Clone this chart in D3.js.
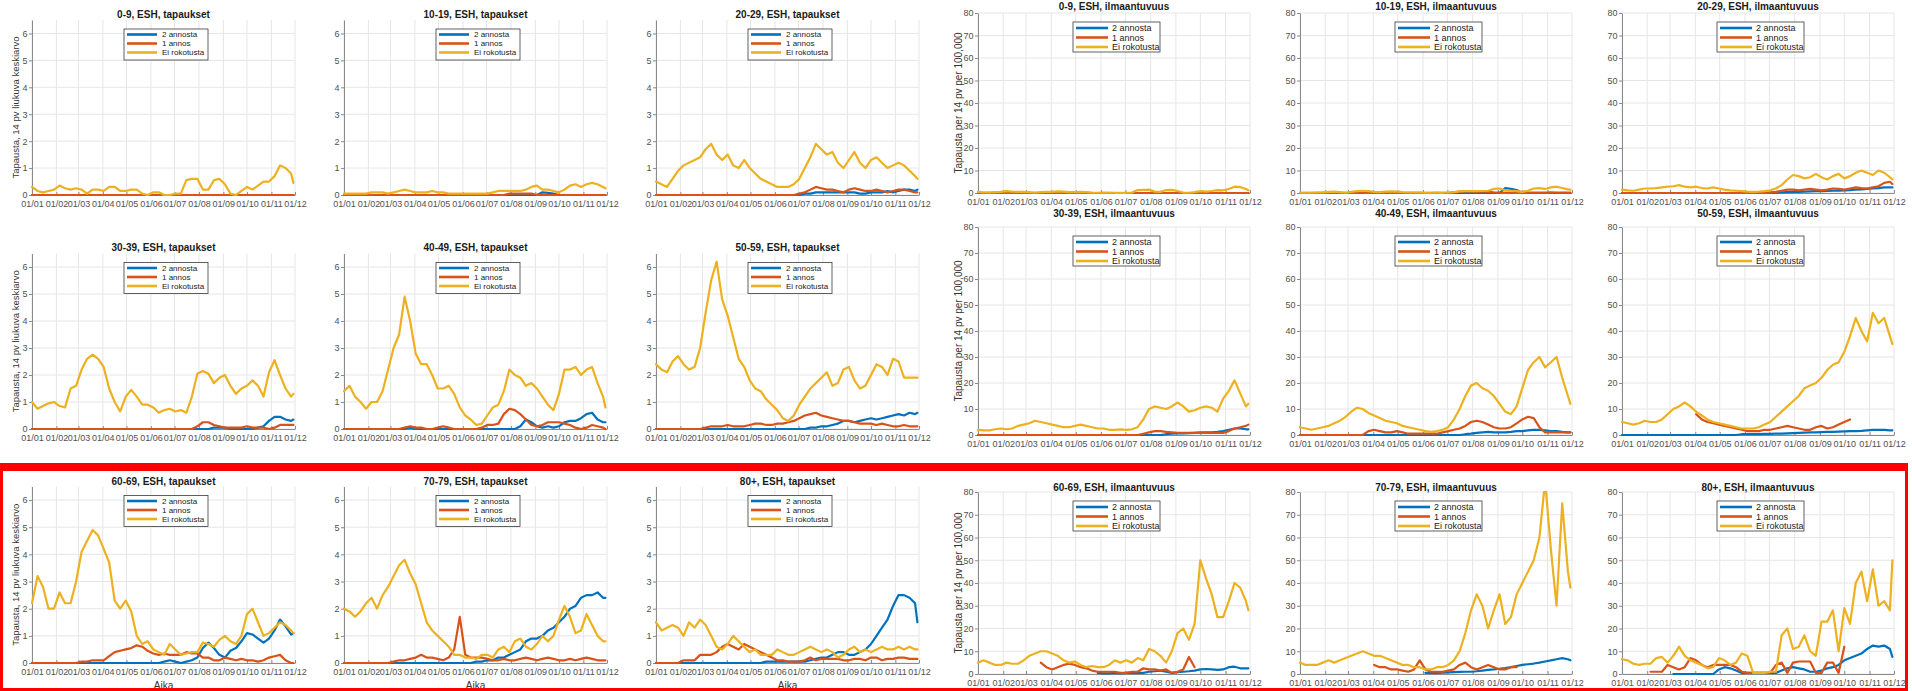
<!DOCTYPE html>
<html><head><meta charset="utf-8">
<script src="https://cdn.jsdelivr.net/npm/d3@7"></script>
<style>body{margin:0;background:#fff;}svg{display:block;font-family:"Liberation Sans",Arial,sans-serif;}</style>
</head><body><div id="chart"></div>
<script>
const ageGroups = ["0-9","10-19","20-29","30-39","40-49","50-59","60-69","70-79","80+"];
const seriesNames = ["2 annosta","1 annos","Ei rokotusta"];
const seriesColors = ["#0072BD","#D95319","#EDB120"];
const dates = ["2021-01-01","2021-01-08","2021-01-15","2021-01-22","2021-01-29","2021-02-05","2021-02-12","2021-02-19","2021-02-26",
"2021-03-05","2021-03-12","2021-03-19","2021-03-26","2021-04-02","2021-04-09","2021-04-16","2021-04-23","2021-04-30",
"2021-05-07","2021-05-14","2021-05-21","2021-05-28","2021-06-04","2021-06-11","2021-06-18","2021-06-25",
"2021-07-02","2021-07-09","2021-07-16","2021-07-23","2021-07-30","2021-08-06","2021-08-13","2021-08-20","2021-08-27",
"2021-09-03","2021-09-10","2021-09-17","2021-09-24","2021-10-01","2021-10-08","2021-10-15","2021-10-22","2021-10-29",
"2021-11-05","2021-11-12","2021-11-19","2021-11-26","2021-11-29"];
const monthTicks = ["2021-01-01","2021-02-01","2021-03-01","2021-04-01","2021-05-01","2021-06-01","2021-07-01","2021-08-01","2021-09-01","2021-10-01","2021-11-01","2021-12-01"];
const xTickLabels = ["01/01","01/02","01/03","01/04","01/05","01/06","01/07","01/08","01/09","01/10","01/11","01/12"];
const casesYTicks = [0,1,2,3,4,5,6];
const incYTicks = [0,10,20,30,40,50,60,70,80];
const casesYLabel = "Tapausta, 14 pv liukuva keskiarvo";
const incYLabel = "Tapausta per 14 pv per 100,000";
const xLabel = "Aika";

// ---- tapaukset (cases, 14-day moving average) ----
const tap09Two = [0,0,0,0,0,0,0,0,0,0, 0,0,0,0,0,0,0,0,0,0, 0,0,0,0,0,0,0,0,0,0, 0,0,0,0,0,0,0,0,0,0, 0,0,0,0,0,0,0,0,0];
const tap09One = [0,0,0,0,0,0,0,0,0,0, 0,0,0,0,0,0,0,0,0,0, 0,0,0,0,0,0,0,0,0,0, 0,0,0,0,0,0,0,0,0,0, 0,0,0,0,0,0,0,0,0];
const tap09None = [0.3,0.15,0.1,0.15,0.2,0.35,0.25,0.2,0.25,0.2, 0.05,0.2,0.2,0.15,0.3,0.3,0.15,0.15,0.2,0.2, 0.05,0,0.1,0.1,0,0,0.05,0.05,0.55,0.6, 0.6,0.2,0.2,0.55,0.6,0.4,0.05,0,0.15,0.3, 0.2,0.35,0.5,0.5,0.7,1.1,1.0,0.8,0.45];

const tap1019Two = [0,0,0,0,0,0,0,0,0,0, 0,0,0,0,0,0,0,0,0,0, 0,0,0,0,0,0,0,0,0,0, 0,0,0,0,0,0,0.1,0.08,0.05,0, 0,0,0,0,0,0,0,0,0];
const tap1019One = [0,0,0,0,0,0,0,0,0,0, 0,0,0,0,0,0,0,0,0,0, 0,0,0,0,0,0,0,0,0,0, 0.05,0.05,0.05,0.05,0.05,0,0,0,0,0, 0,0,0,0,0,0,0,0,0];
const tap1019None = [0.05,0.05,0.05,0.05,0.05,0.1,0.1,0.1,0.05,0.1, 0.15,0.2,0.15,0.1,0.1,0.1,0.15,0.1,0.1,0.05, 0.05,0.05,0.05,0.05,0.05,0.05,0.05,0.1,0.15,0.15, 0.15,0.15,0.15,0.2,0.3,0.35,0.2,0.2,0.15,0.1, 0.2,0.35,0.4,0.3,0.4,0.45,0.4,0.3,0.25];

const tap2029Two = [0,0,0,0,0,0,0,0,0,0, 0,0,0,0,0,0,0,0,0,0, 0,0,0,0,0,0,0,0.05,0.05,0.1, 0.1,0.1,0.1,0.1,0.1,0.1,0.1,0.05,0.05,0.1, 0.1,0.1,0.15,0.1,0.15,0.2,0.2,0.15,0.2];
const tap2029One = [0,0,0,0,0,0,0,0,0,0, 0,0,0,0,0,0,0,0,0,0, 0,0,0,0,0,0,0.05,0.1,0.2,0.3, 0.25,0.2,0.2,0.15,0.1,0.2,0.25,0.2,0.15,0.15, 0.2,0.15,0.1,0.15,0.2,0.2,0.15,0.1,0.1];
const tap2029None = [0.5,0.4,0.3,0.6,0.9,1.1,1.2,1.3,1.4,1.7, 1.9,1.5,1.3,1.5,1.1,1.0,1.3,1.0,0.8,0.6, 0.5,0.4,0.3,0.3,0.3,0.4,0.6,1.0,1.4,1.9, 1.7,1.5,1.6,1.2,1.0,1.3,1.6,1.2,1.0,1.3, 1.4,1.2,1.0,1.1,1.2,1.1,0.9,0.7,0.6];

const tap3039Two = [0,0,0,0,0,0,0,0,0,0, 0,0,0,0,0,0,0,0,0,0, 0,0,0,0,0,0,0,0,0,0, 0,0,0,0.05,0.05,0.05,0,0,0,0, 0,0.05,0.1,0.3,0.45,0.45,0.35,0.3,0.35];
const tap3039One = [0,0,0,0,0,0,0,0,0,0, 0,0,0,0,0,0,0,0,0,0, 0,0,0,0,0,0,0,0,0,0, 0.1,0.25,0.25,0.15,0.1,0.05,0.05,0.05,0.05,0.1, 0.05,0.05,0.05,0,0.05,0.15,0.15,0.15,0.15];
const tap3039None = [1.0,0.75,0.85,0.95,1.0,0.85,0.8,1.5,1.6,2.2, 2.6,2.75,2.6,2.3,1.5,1.0,0.65,1.2,1.45,1.2, 0.9,0.9,0.8,0.6,0.7,0.75,0.65,0.7,0.6,1.2, 2.05,2.15,2.05,1.7,1.9,2.0,1.6,1.3,1.5,1.6, 1.8,1.6,1.2,2.1,2.55,2.0,1.5,1.2,1.3];

const tap4049Two = [0,0,0,0,0,0,0,0,0,0, 0,0,0.05,0,0,0,0,0,0,0, 0,0,0,0,0,0,0,0,0,0, 0,0,0.1,0.35,0.25,0.1,0.05,0.1,0.05,0.1, 0.25,0.3,0.3,0.4,0.55,0.6,0.35,0.25,0.25];
const tap4049One = [0,0,0,0,0,0,0,0,0,0, 0,0.05,0.1,0.05,0.05,0,0,0.05,0.1,0.05, 0,0,0,0,0,0.05,0.15,0.15,0.2,0.55, 0.75,0.7,0.55,0.35,0.15,0.1,0.15,0.25,0.25,0.25, 0.2,0.15,0.05,0,0.05,0.15,0.1,0.05,0];
const tap4049None = [1.4,1.6,1.2,1.0,0.75,1.0,1.0,1.4,2.2,3.0, 3.5,4.9,4.0,2.8,2.4,2.4,2.0,1.5,1.5,1.6, 1.3,0.8,0.5,0.35,0.15,0.2,0.5,0.8,0.9,1.4, 2.2,2.0,1.9,1.6,1.7,1.5,1.2,0.9,0.7,1.3, 2.2,2.2,2.3,2.0,2.2,2.3,1.7,1.2,0.8];

const tap5059Two = [0,0,0,0,0,0,0,0,0,0, 0,0,0,0,0,0,0,0,0,0, 0,0,0,0,0,0,0,0,0.05,0.05, 0.1,0.1,0.15,0.2,0.3,0.3,0.25,0.3,0.35,0.4, 0.35,0.4,0.45,0.5,0.55,0.5,0.6,0.55,0.6];
const tap5059One = [0,0,0,0,0,0,0,0,0,0.05, 0.1,0.1,0.1,0.15,0.1,0.1,0.1,0.15,0.2,0.2, 0.15,0.15,0.2,0.2,0.25,0.3,0.4,0.5,0.55,0.6, 0.5,0.45,0.4,0.35,0.3,0.3,0.25,0.2,0.2,0.2, 0.15,0.2,0.15,0.1,0.1,0.15,0.1,0.1,0.1];
const tap5059None = [2.4,2.2,2.1,2.5,2.7,2.4,2.2,2.3,3.0,4.3, 5.5,6.2,4.8,4.2,3.4,2.6,2.3,1.8,1.5,1.4, 1.1,0.9,0.7,0.4,0.3,0.5,0.9,1.2,1.5,1.7, 1.9,2.1,1.6,1.7,2.2,2.3,1.8,1.5,1.6,2.0, 2.4,2.3,2.0,2.6,2.5,1.9,1.9,1.9,1.9];

const tap6069Two = [0,0,0,0,0,0,0,0,0,0, 0,0,0,0,0,0,0,0,0,0, 0,0,0,0,0.05,0.1,0.05,0,0.05,0.1, 0.2,0.55,0.75,0.55,0.3,0.2,0.45,0.55,0.8,1.1, 1.05,0.9,0.75,0.9,1.2,1.6,1.35,1.05,1.1];
const tap6069One = [0,0,0,0,0,0,0,0,0,0.05, 0.05,0.1,0.1,0.1,0.25,0.4,0.45,0.5,0.55,0.65, 0.6,0.45,0.35,0.3,0.35,0.3,0.3,0.3,0.4,0.35, 0.35,0.2,0.2,0.1,0.1,0.2,0.15,0.1,0.15,0.1, 0.1,0.05,0.1,0.2,0.25,0.3,0.1,0,0];
const tap6069None = [2.2,3.2,2.8,2.0,2.0,2.6,2.2,2.2,3.0,4.1, 4.5,4.9,4.7,4.2,3.7,2.3,2.0,2.3,1.9,1.0, 0.7,0.8,0.5,0.4,0.3,0.7,0.5,0.3,0.35,0.4, 0.4,0.75,0.7,0.6,0.85,1.0,0.8,0.7,1.0,1.8, 2.0,1.5,1.0,1.1,1.3,1.5,1.4,1.2,1.1];

const tap7079Two = [0,0,0,0,0,0,0,0,0,0, 0,0,0,0,0,0,0,0,0,0, 0,0,0,0,0.05,0.05,0.1,0.1,0.2,0.2, 0.3,0.4,0.5,0.8,0.9,0.9,1.0,1.2,1.3,1.5, 1.7,2.0,2.1,2.4,2.5,2.5,2.6,2.4,2.4];
const tap7079One = [0,0,0,0,0,0,0,0,0,0.05, 0.1,0.1,0.15,0.2,0.3,0.2,0.2,0.15,0.1,0.2, 0.5,1.7,0.3,0.2,0.2,0.2,0.15,0.1,0.1,0.15, 0.1,0.1,0.15,0.2,0.15,0.1,0.15,0.2,0.15,0.1, 0.1,0.15,0.1,0.15,0.2,0.15,0.1,0.1,0.1];
const tap7079None = [2.0,1.9,1.7,1.9,2.2,2.4,2.0,2.5,2.8,3.2, 3.6,3.8,3.3,2.9,2.2,1.5,1.2,1.0,0.8,0.6, 0.3,0.3,0.2,0.2,0.15,0.3,0.3,0.2,0.5,0.6, 0.4,0.8,0.9,0.6,0.5,0.7,1.0,0.8,1.0,1.6, 2.1,1.7,1.1,1.2,1.8,1.4,1.0,0.8,0.8];

const tap80Two = [0,0,0,0,0,0,0,0,0,0, 0,0,0,0,0,0,0,0,0,0, 0.05,0.05,0.05,0.05,0.05,0.05,0.05,0.05,0.1,0.15, 0.2,0.2,0.3,0.4,0.4,0.3,0.3,0.4,0.5,0.7, 1.0,1.3,1.6,2.1,2.5,2.5,2.4,2.2,1.5];
const tap80One = [0,0,0,0,0,0.1,0.1,0.1,0.3,0.3, 0.3,0.4,0.6,0.7,0.6,0.5,0.7,0.6,0.5,0.4, 0.3,0.2,0.1,0.1,0.05,0.05,0.05,0.1,0.2,0.1, 0.15,0.15,0.15,0.15,0.1,0.1,0.15,0.15,0.1,0.2, 0.2,0.1,0.15,0.15,0.2,0.2,0.15,0.15,0.15];
const tap80None = [1.5,1.2,1.3,1.4,1.3,1.0,1.5,1.3,1.6,1.4, 1.0,0.6,0.5,0.7,1.0,0.8,0.6,0.4,0.5,0.3, 0.3,0.3,0.5,0.4,0.3,0.3,0.4,0.5,0.6,0.5, 0.4,0.5,0.4,0.2,0.3,0.5,0.6,0.4,0.5,0.4, 0.5,0.6,0.5,0.5,0.6,0.5,0.6,0.5,0.5];

// ---- ilmaantuvuus (incidence per 100,000) ----
const ilm09Two = [0,0,0,0,0,0,0,0,0,0, 0,0,0,0,0,0,0,0,0,0, 0,0,0,0,0,0,0,0,0,0, 0,0,0,0,0,0,0,0,0,0, 0,0,0,0,0,0,0,0,0];
const ilm09One = [0,0,0,0,0,0,0,0,0,0, 0,0,0,0,0,0,0,0,0,0, 0,0,0,0,0,0,0,0,0,0, 0,0,0,0,0,0,0,0,0,0, 0,0,0,0,0,0,0,0,0];
const ilm09None = [0.5,0.3,0.3,0.4,0.5,0.8,0.6,0.5,0.5,0.4, 0.2,0.4,0.5,0.5,0.7,0.6,0.4,0.4,0.5,0.4, 0.2,0.1,0.2,0.2,0.1,0.1,0.1,0.2,1.3,1.4, 1.5,0.6,0.5,1.3,1.4,0.9,0.2,0.1,0.4,0.8, 0.6,0.9,1.3,1.2,1.8,2.8,2.6,1.8,1.2];

const ilm1019Two = [0,0,0,0,0,0,0,0,0,0, 0,0,0,0,0,0,0,0,0,0, 0,0,0,0,0,0,0,0,0,0, 0,0,0,0,0,0,2.2,1.8,1.3,0, 0,0,0,0,0,0,0,0,0];
const ilm1019One = [0,0,0,0,0,0,0,0,0,0, 0,0,0,0,0,0,0,0,0,0, 0,0,0,0,0,0,0,0.3,0.6,0.7, 0.7,0.6,0.7,0.5,0.3,0.2,0.1,0.1,0.2,0.2, 0.2,0.2,0.2,0.2,0.3,0.2,0.2,0.2,0.2];
const ilm1019None = [0.2,0.2,0.2,0.3,0.3,0.5,0.6,0.4,0.2,0.5, 0.8,1.0,0.8,0.5,0.4,0.6,0.7,0.6,0.4,0.3, 0.3,0.3,0.2,0.2,0.3,0.2,0.3,0.4,0.7,0.8, 0.9,0.8,0.9,1.0,1.8,2.0,1.2,1.0,0.8,0.5, 1.0,2.0,2.2,1.8,2.5,2.8,2.2,1.6,1.5];

const ilm2029Two = [0,0,0,0,0,0,0,0,0,0, 0,0,0,0,0,0,0,0,0,0, 0,0,0,0,0,0,0,0.2,0.3,0.4, 0.5,0.5,0.6,0.7,0.8,0.8,0.9,1.0,1.0,1.2, 1.3,1.5,1.6,1.8,2.0,2.2,2.5,2.5,2.5];
const ilm2029One = [0,0,0,0,0,0,0,0,0,0, 0,0,0,0,0,0,0,0,0,0, 0,0,0,0,0,0,0.3,0.5,1.0,1.5, 1.5,1.2,1.5,1.8,1.5,1.2,1.5,2.0,1.8,1.5, 2.0,2.5,2.2,2.0,2.5,3.0,4.5,5.0,4.0];
const ilm2029None = [1.5,1.2,1.0,1.5,2.0,2.0,2.2,2.5,2.8,3.0, 3.5,2.8,2.5,2.8,2.2,2.0,2.5,2.0,1.5,1.2, 1.0,0.8,0.6,0.5,0.6,0.8,1.2,2.0,3.5,6.0, 8.0,7.5,6.5,7.0,8.5,7.0,6.0,7.5,8.5,6.5, 7.5,9.0,10.0,9.0,8.0,10.0,9.0,7.0,6.0];

const ilm3039Two = [0,0,0,0,0,0,0,0,0,0, 0,0,0,0,0,0,0,0,0,0, 0,0,0,0,0,0,0,0,0,0, 0,0,0,0.3,0.5,0.6,0.6,0.7,0.8,0.9, 1.0,1.0,1.2,1.5,2.0,2.5,2.5,2.2,2.2];
const ilm3039One = [0,0,0,0,0,0,0,0,0,0, 0,0,0,0,0,0,0,0,0,0, 0,0,0,0,0,0,0,0,0,0.5, 1.0,1.5,1.5,1.2,1.0,0.8,0.8,0.8,0.8,1.0, 0.8,0.8,0.8,0.8,1.5,2.5,3.0,3.5,4.0];
const ilm3039None = [2.0,1.8,1.8,2.2,2.5,2.2,2.5,3.5,4.0,4.5, 5.5,5.0,4.5,4.0,3.5,3.0,3.0,3.5,4.0,3.5, 3.0,2.5,2.5,2.0,2.0,2.2,2.0,2.2,3.0,6.0, 10.0,11.0,10.5,10.0,11.0,12.5,11.0,9.0,9.5,10.5, 11.0,10.5,9.0,14.0,17.0,21.0,16.0,11.0,12.0];

const ilm4049Two = [0,0,0,0,0,0,0,0,0,0, 0,0,0,0,0,0,0,0,0,0, 0,0,0,0,0,0,0,0,0,0.3, 0.5,0.8,1.0,1.2,1.0,1.0,1.0,1.2,1.5,1.5, 1.8,2.0,2.0,1.8,1.5,1.5,1.2,1.0,1.0];
const ilm4049One = [0,0,0,0,0,0,0,0,0,0, 0,0,1.5,2.0,1.5,1.0,1.0,1.5,1.0,0.5, 0.5,0.5,0.5,0.5,0.5,1.0,1.5,2.0,2.5,3.5, 5.0,5.5,5.0,4.0,3.0,2.5,2.5,3.0,4.5,6.0, 7.0,6.5,3.0,1.0,1.0,1.0,1.0,1.0,1.0];
const ilm4049None = [3.0,2.5,2.0,2.5,3.0,3.5,4.5,5.5,7.0,9.0, 10.5,10.0,8.5,7.5,6.5,5.5,5.0,4.5,3.5,3.0, 2.5,2.0,1.5,1.2,1.5,2.0,3.0,6.0,10.0,15.0, 19.0,20.0,18.0,17.0,15.0,12.0,9.0,8.0,11.0,18.0, 25.0,28.0,30.0,26.0,28.0,30.0,22.0,15.0,12.0];

const ilm5059Two = [0,0,0,0,0,0,0,0,0,0, 0,0,0,0,0,0,0,0,0,0, 0,0.3,0.3,0.3,0.3,0.4,0.4,0.5,0.5,0.6, 0.7,0.8,0.9,1.0,1.0,1.1,1.2,1.2,1.3,1.4, 1.5,1.5,1.6,1.8,2.0,2.0,2.0,1.8,1.8];
const ilm5059One = [null,null,null,null,null,null,null,null,null,null, null,null,null,8,6,5,4.5,4,3.5,3, 2.5,2,1.5,1.5,1.5,2,2,2.5,3,3.5, 3,2.5,2,2,3,3.5,2.5,3,4,5, 6,null,null,null,null,null,null,null,null];
const ilm5059None = [5.0,4.5,4.0,4.5,5.5,5.0,5.0,6.0,8.0,10.0, 11.0,12.5,11.0,9.0,7.5,6.0,5.0,4.5,4.0,3.5, 3.0,2.5,2.5,2.5,3.0,4.0,5.0,7.0,9.0,11.0, 13.0,15.0,18.0,19.0,20.0,22.0,25.0,27.0,28.0,32.0, 38.0,45.0,40.0,36.0,47.0,43.0,45.0,38.0,35.0];

const ilm6069Two = [null,null,null,null,null,null,null,null,null,null, null,null,null,null,null,null,null,null,null,null, null,0.5,0.3,0.3,0.5,0.3,0.5,0.5,0.5,0.5, 1,1.2,1.5,1,0.5,0.8,1,1.2,1.5,2, 2.2,2,1.8,2,3,3.2,2.5,2.5,2.5];
const ilm6069One = [null,null,null,null,null,null,null,null,null,null, null,5,3,2,3,4,4.5,4,3,2.5, 1.5,1,1,1,1,0.5,0.5,1,1,2.5, 2,2,1.5,2,0.5,1,2,7.5,3, null, null,null,null,null,null,null,null,null,null];
const ilm6069None = [5,6,5,4,4,5,4.5,4.5,6,8, 9,10,10,9,8,6,5,5.5,4,3, 3.5,3,3,4,6,5,6,5,7,6, 11,10,8,5,10,18,20,15,22,50, 42,35,25,25,32,40,38,32,28];

const ilm7079Two = [null,null,null,null,null,null,null,null,null,null, null,null,null,null,null,null,null,null,null,null, null,null,0.5,0.5,0.5,0.6,0.7,0.8,0.9,1.0, 1.0,1.2,1.5,1.8,2.0,2.3,2.6,3.0,3.5,4.0, 4.3,4.6,5.0,5.5,6.0,6.5,7.0,6.5,6.0];
const ilm7079One = [null,null,null,null,null,null,null,null,null,null, null,null,null,4,3,3,2,2,1.5,1, 2,6,2,1,1,1,1.5,2,4,5, 3,2,3,4,3,2,2,3,3,null, null,null,null,null,null,null,null,null,null];
const ilm7079None = [5,4,4,4,5,6,5,6,7,8, 9,10,9,8,8,7,6,5,4,4, 3,3,2,2,3,3,4,6,10,18, 28,35,30,20,28,35,22,25,35,40, 45,50,60,85,55,30,75,45,38];

const ilm80Two = [null,null,null,null,null,null,null,null,null,0, 0,0,0,0,0,0,0,2,3,2.5, 1.5,0.5,0.5,0.5,0.5,0.5,0.5,0.5,1.5,2.5, 3,2.5,2,1,1,1.5,2.5,3,4,6, 7,8,9,11,12.5,12,12.5,11,7.5];
const ilm80One = [null,null,null,null,null,1,1,1,4,3, 2,3,7,6,4,3,4,4,4,4, 3,1,0.5,0.5,0.5,0.5,0.5,4,5,0.5, 5,5.5,5.5,5.5,0.5,0.5,5,5,0.5,12, null,null,null,null,null,null,null,null,null];
const ilm80None = [6.5,6,4.5,4,4.5,4.5,7,7.5,5,8, 12,8,6,5,4,2.5,3,7,6,4, 5,9,8,0.5,0.5,0.5,1,1,17,20, 11,12,17,10,8,23,23,28,10,29, 22,40,45,32,46,30,32,28,50];

const casesSeries = [
  [tap09Two,tap09One,tap09None],[tap1019Two,tap1019One,tap1019None],[tap2029Two,tap2029One,tap2029None],
  [tap3039Two,tap3039One,tap3039None],[tap4049Two,tap4049One,tap4049None],[tap5059Two,tap5059One,tap5059None],
  [tap6069Two,tap6069One,tap6069None],[tap7079Two,tap7079One,tap7079None],[tap80Two,tap80One,tap80None]];
const incSeries = [
  [ilm09Two,ilm09One,ilm09None],[ilm1019Two,ilm1019One,ilm1019None],[ilm2029Two,ilm2029One,ilm2029None],
  [ilm3039Two,ilm3039One,ilm3039None],[ilm4049Two,ilm4049One,ilm4049None],[ilm5059Two,ilm5059One,ilm5059None],
  [ilm6069Two,ilm6069One,ilm6069None],[ilm7079Two,ilm7079One,ilm7079None],[ilm80Two,ilm80One,ilm80None]];

// ---- layout ----
const W = 1912, H = 691;
const FONT = '"Liberation Sans", Arial, Helvetica, sans-serif';
const parse = d3.timeParse("%Y-%m-%d");
const dateVals = dates.map(parse);
const monthVals = monthTicks.map(parse);

const leftCols = [32, 344, 656], leftW = 263;
const leftRows = [{top:20,bottom:195,title:14},{top:253.5,bottom:429,title:247},{top:486.5,bottom:663,title:481}];
const rightCols = [978, 1300, 1622], rightW = 272;
const rightRows = [{top:13,bottom:193,title:6},{top:227,bottom:435,title:213},{top:492,bottom:674,title:487}];

const svg = d3.select("#chart").append("svg").attr("width", W).attr("height", H)
  .style("font-family", FONT);
svg.append("rect").attr("width", W).attr("height", H).attr("fill", "#fff");
const defs = svg.append("defs");
let clipId = 0;

function drawPanel(o) {
  const g = svg.append("g");
  const x = d3.scaleTime().domain([monthVals[0], monthVals[11]]).range([o.x0, o.x0 + o.w]);
  const y = d3.scaleLinear().domain([0, o.yMax]).range([o.bottom, o.top]);
  // grid
  g.append("g").selectAll("line").data(monthVals).join("line")
    .attr("x1", d => x(d)).attr("x2", d => x(d)).attr("y1", o.top).attr("y2", o.bottom)
    .attr("stroke", "#e6e6e6").attr("stroke-width", 1);
  g.append("g").selectAll("line").data(o.yTicks).join("line")
    .attr("x1", o.x0).attr("x2", o.x0 + o.w).attr("y1", d => y(d)).attr("y2", d => y(d))
    .attr("stroke", "#e6e6e6").attr("stroke-width", 1);
  // axes
  const xa = g.append("g").attr("transform", `translate(0,${o.bottom})`)
    .call(d3.axisBottom(x).tickValues(monthVals).tickFormat((d, i) => xTickLabels[i])
      .tickSizeInner(-3).tickSizeOuter(0).tickPadding(5.5));
  const ya = g.append("g").attr("transform", `translate(${o.x0},0)`)
    .call(d3.axisLeft(y).tickValues(o.yTicks).tickFormat(d3.format("d"))
      .tickSizeInner(3).tickSizeOuter(0).tickPadding(1.5));
  [xa, ya].forEach(a => {
    a.select(".domain").attr("stroke", "#8a8a8a");
    a.selectAll(".tick line").attr("stroke", "#8a8a8a");
    a.selectAll("text").attr("fill", "#505050").style("font-size", "9px").style("font-family", FONT);
  });
  // clip
  const id = "clip" + (clipId++);
  defs.append("clipPath").attr("id", id).append("rect")
    .attr("x", o.x0 - 1).attr("y", o.top - 1).attr("width", o.w + 3).attr("height", o.bottom - o.top + 4);
  const line = d3.line().defined(d => d != null)
    .x((d, i) => x(dateVals[i])).y(d => y(d));
  const lg = g.append("g").attr("clip-path", `url(#${id})`);
  o.series.forEach((s, k) => {
    lg.append("path").datum(s).attr("d", line).attr("fill", "none")
      .attr("stroke", seriesColors[k]).attr("stroke-width", 2.2)
      .attr("stroke-linejoin", "round").attr("stroke-linecap", "round");
  });
  // title
  const cx = o.x0 + o.w / 2;
  g.append("text").attr("x", cx).attr("y", o.titleY + 3.6).attr("text-anchor", "middle")
    .style("font-size", "10px").style("font-weight", "bold").attr("fill", "#1a1a1a").text(o.title);
  // legend
  const L = o.legend;
  const lx = cx + L.dx, ly = o.top + L.dy;
  const leg = g.append("g");
  leg.append("rect").attr("x", lx).attr("y", ly).attr("width", L.w).attr("height", L.h)
    .attr("fill", "#fff").attr("stroke", "#3a3a3a").attr("stroke-width", 0.8);
  seriesNames.forEach((n, k) => {
    const ry = ly + L.rows[k];
    leg.append("line").attr("x1", lx + 3).attr("x2", lx + 3 + L.lineLen).attr("y1", ry).attr("y2", ry)
      .attr("stroke", seriesColors[k]).attr("stroke-width", 2.6);
    leg.append("text").attr("x", lx + L.textX).attr("y", ry + L.fs * 0.35)
      .style("font-size", L.fs + "px").attr("fill", "#222").text(n);
  });
  // y label
  if (o.yLabel) {
    const yc = (o.top + o.bottom) / 2;
    g.append("text").attr("transform", `translate(${o.yLabelX},${yc}) rotate(-90)`)
      .attr("text-anchor", "middle").attr("dy", "0.35em")
      .style("font-size", o.yLabelFs + "px").attr("fill", "#333").text(o.yLabel);
  }
  if (o.xLabel) {
    g.append("text").attr("x", cx).attr("y", o.bottom + 25.5).attr("text-anchor", "middle")
      .style("font-size", "10px").attr("fill", "#333").text(o.xLabel);
  }
}

ageGroups.forEach((ag, i) => {
  const r = Math.floor(i / 3), c = i % 3;
  drawPanel({
    x0: leftCols[c], w: leftW, top: leftRows[r].top, bottom: leftRows[r].bottom, titleY: leftRows[r].title,
    yMax: 6.5, yTicks: casesYTicks, title: `${ag}, ESH, tapaukset`, series: casesSeries[i],
    legend: {dx: -39.5, dy: 9, w: 84, h: 31, rows: [5.5, 14.5, 23.5], lineLen: 30, textX: 38, fs: 8},
    yLabel: c === 0 ? casesYLabel : null, yLabelX: 16, yLabelFs: 9.5,
    xLabel: r === 2 ? xLabel : null
  });
  drawPanel({
    x0: rightCols[c], w: rightW, top: rightRows[r].top, bottom: rightRows[r].bottom, titleY: rightRows[r].title,
    yMax: 80, yTicks: incYTicks, title: `${ag}, ESH, ilmaantuvuus`, series: incSeries[i],
    legend: {dx: -41, dy: 9, w: 87, h: 30, rows: [6, 15.5, 25], lineLen: 32, textX: 39, fs: 9},
    yLabel: c === 0 ? incYLabel : null, yLabelX: 958, yLabelFs: 10,
    xLabel: null
  });
});

// red highlight frame around the bottom row
const frame = svg.append("g").attr("fill", "#ff0000");
frame.append("rect").attr("x", 0).attr("y", 463).attr("width", 1908).attr("height", 8);
frame.append("rect").attr("x", 0).attr("y", 463).attr("width", 3).attr("height", 228);
frame.append("rect").attr("x", 0).attr("y", 688).attr("width", 1908).attr("height", 3);
frame.append("rect").attr("x", 1905).attr("y", 463).attr("width", 3).attr("height", 228);

// data length check
const bad = [];
casesSeries.concat(incSeries).forEach((p, i) => p.forEach((s, k) => { if (s.length !== dates.length) bad.push(i + ":" + k + "=" + s.length); }));
if (bad.length) throw new Error("Bad lengths: " + bad.join(", "));
</script></body></html>
